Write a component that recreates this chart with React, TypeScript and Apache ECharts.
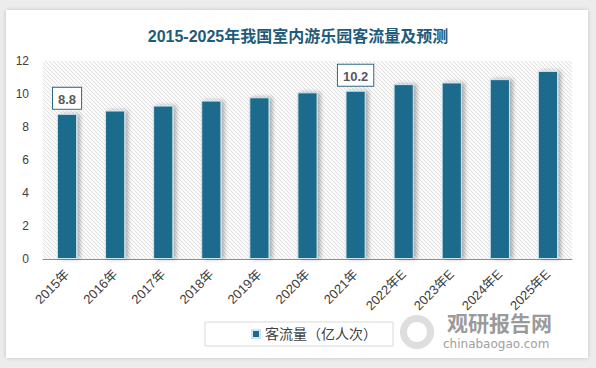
import React, { useEffect, useRef } from "react";
import * as echarts from "echarts";

const categories = ["2015年", "2016年", "2017年", "2018年", "2019年", "2020年", "2021年", "2022年E", "2023年E", "2024年E", "2025年E"];
const visitors = [8.8, 9.0, 9.3, 9.6, 9.8, 10.1, 10.2, 10.6, 10.7, 10.9, 11.4];
const labeledIndexes = [0, 6];
const seriesName = "客流量（亿人次）";
const titleText = "2015-2025年我国室内游乐园客流量及预测";

function makeHatch(): HTMLCanvasElement {
  const c = document.createElement("canvas");
  c.width = 4;
  c.height = 4;
  const ctx = c.getContext("2d")!;
  ctx.fillStyle = "#fbfbfb";
  ctx.fillRect(0, 0, 4, 4);
  ctx.strokeStyle = "#d9d9d9";
  ctx.lineWidth = 0.8;
  ctx.beginPath();
  ctx.moveTo(-1, -1);
  ctx.lineTo(5, 5);
  ctx.moveTo(-1, 3);
  ctx.lineTo(1, 5);
  ctx.moveTo(3, -1);
  ctx.lineTo(5, 1);
  ctx.stroke();
  return c;
}

export default function App() {
  const ref = useRef<HTMLDivElement>(null);
  useEffect(() => {
    document.body.style.margin = "0";
    const chart = echarts.init(ref.current!, null, { renderer: "svg" });
    const hatch = makeHatch();
    const font = "'Liberation Sans', 'Noto Sans CJK SC', sans-serif";
    chart.setOption({
      animation: false,
      textStyle: { fontFamily: font },
      title: {
        text: titleText,
        left: "center",
        top: 23,
        textStyle: { fontSize: 16, fontWeight: "bold", color: "#1f5b7a", fontFamily: font },
      },
      grid: {
        left: 43,
        right: 24,
        top: 61,
        bottom: 109,
        show: true,
        borderWidth: 0,
        backgroundColor: { image: hatch, repeat: "repeat" },
      },
      legend: {
        data: [seriesName],
        left: 205,
        top: 322,
        width: 205,
        height: 27,
        padding: [5, 16, 5, 46],
        borderColor: "#d9d9d9",
        borderWidth: 1,
        itemWidth: 8,
        itemHeight: 8,
        itemGap: 4,
        icon: "rect",
        textStyle: { fontSize: 14, color: "#404040", fontFamily: font },
      },
      xAxis: {
        type: "category",
        data: categories,
        axisLine: { lineStyle: { color: "#8c8c8c", width: 1 } },
        axisTick: { show: false },
        axisLabel: { rotate: 45, fontSize: 13, color: "#404040", margin: 13, interval: 0 },
      },
      yAxis: {
        type: "value",
        min: 0,
        max: 12,
        interval: 2,
        axisLine: { show: false },
        axisTick: { show: false },
        splitLine: { show: false },
        axisLabel: { fontSize: 12, color: "#404040", margin: 14 },
      },
      series: [
        {
          name: seriesName,
          type: "bar",
          barWidth: "42%",
          data: visitors.map((v, i) => ({
            value: v,
            label: labeledIndexes.includes(i)
              ? {
                  show: true,
                  position: "top",
                  distance: 5,
                  fontSize: 13,
                  fontWeight: "bold",
                  color: "#595959",
                  backgroundColor: "#ffffff",
                  borderColor: "#2a6b8a",
                  borderWidth: 1,
                  padding: [5, 5, 3, 5],
                }
              : { show: false },
          })),
          itemStyle: {
            color: "#1c6a8c",
            borderColor: "#cfe6f0",
            borderWidth: 1,
            shadowColor: "rgba(0,0,0,0.3)",
            shadowBlur: 4,
            shadowOffsetX: 3,
            shadowOffsetY: 0,
          },
        },
      ],
      graphic: [
        {
          type: "ring",
          shape: { cx: 417, cy: 332, r: 17, r0: 10 },
          style: { fill: "#dedede" },
          silent: true,
        },
        {
          type: "text",
          x: 447,
          y: 311,
          style: { text: "观研报告网", fontSize: 21, fontWeight: "bold", fill: "#9a9a9a", fontFamily: "'Noto Sans CJK SC', sans-serif" },
          silent: true,
        },
        {
          type: "text",
          x: 443,
          y: 338,
          style: { text: "chinabaogao.com", fontSize: 12, fill: "#a0a0a0", fontFamily: "'DejaVu Sans', sans-serif" },
          silent: true,
        },
      ],
    });
    return () => chart.dispose();
  }, []);
  return (
    <div style={{ position: "relative", width: 596, height: 368, background: "#ececec", overflow: "hidden" }}>
      <div
        style={{
          position: "absolute",
          left: 6,
          top: 10,
          width: 582,
          height: 348,
          background: "#ffffff",
          boxShadow: "0 0 4px rgba(0,0,0,0.18)",
        }}
      />
      <div ref={ref} style={{ position: "absolute", left: 0, top: 0, width: 596, height: 368 }} />
    </div>
  );
}
